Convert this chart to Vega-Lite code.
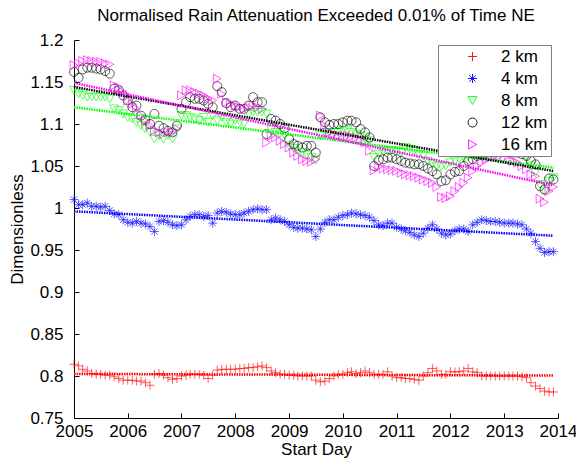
{
  "$schema": "https://vega.github.io/schema/vega-lite/v6.json",
  "width": 484,
  "height": 378,
  "autosize": {"type": "none"},
  "padding": {"left": 74, "top": 40, "right": 18, "bottom": 43},
  "background": "white",
  "title": {"text": "Normalised Rain Attenuation Exceeded 0.01% of Time NE", "fontSize": 17, "fontWeight": "normal", "font": "Liberation Sans", "color": "black", "offset": 6},
  "config": {
    "view": {"stroke": null},
    "font": "Liberation Sans",
    "axis": {"grid": false, "domainColor": "black", "tickColor": "black", "labelColor": "black", "titleColor": "black", "labelFontSize": 17, "titleFontSize": 17, "titleFontWeight": "normal", "tickSize": -5, "labelFont": "Liberation Sans", "titleFont": "Liberation Sans"}
  },
  "datasets": {
    "pts": [
      {"date":"2005-01-01","2 km":0.814,"4 km":1.010,"8 km":1.140,"12 km":1.162,"16 km":1.170},
      {"date":"2005-02-01","2 km":0.812,"4 km":1.004,"8 km":1.136,"12 km":1.155,"16 km":1.172},
      {"date":"2005-03-01","2 km":0.808,"4 km":1.004,"8 km":1.134,"12 km":1.165,"16 km":1.175},
      {"date":"2005-04-01","2 km":0.806,"4 km":1.006,"8 km":1.132,"12 km":1.167,"16 km":1.176},
      {"date":"2005-05-01","2 km":0.803,"4 km":1.002,"8 km":1.132,"12 km":1.167,"16 km":1.175},
      {"date":"2005-06-01","2 km":0.802,"4 km":1.002,"8 km":1.132,"12 km":1.166,"16 km":1.174},
      {"date":"2005-07-01","2 km":0.802,"4 km":1.001,"8 km":1.132,"12 km":1.165,"16 km":1.174},
      {"date":"2005-08-01","2 km":0.801,"4 km":1.002,"8 km":1.132,"12 km":1.163,"16 km":1.172},
      {"date":"2005-09-01","2 km":0.801,"4 km":0.997,"8 km":1.130,"12 km":1.160,"16 km":1.171},
      {"date":"2005-10-01","2 km":0.799,"4 km":0.993,"8 km":1.118,"12 km":1.142,"16 km":1.146},
      {"date":"2005-11-01","2 km":0.797,"4 km":0.992,"8 km":1.116,"12 km":1.140,"16 km":1.144},
      {"date":"2005-12-01","2 km":0.795,"4 km":0.986,"8 km":1.112,"12 km":1.134,"16 km":1.138},
      {"date":"2006-01-01","2 km":0.795,"4 km":0.983,"8 km":1.108,"12 km":1.128,"16 km":1.128},
      {"date":"2006-02-01","2 km":0.795,"4 km":0.982,"8 km":1.106,"12 km":1.120,"16 km":1.124},
      {"date":"2006-03-01","2 km":0.794,"4 km":0.984,"8 km":1.102,"12 km":1.122,"16 km":1.118},
      {"date":"2006-04-01","2 km":0.794,"4 km":0.982,"8 km":1.098,"12 km":1.110,"16 km":1.110},
      {"date":"2006-05-01","2 km":0.792,"4 km":0.981,"8 km":1.094,"12 km":1.105,"16 km":1.104},
      {"date":"2006-06-01","2 km":0.789,"4 km":0.978,"8 km":1.090,"12 km":1.100,"16 km":1.098},
      {"date":"2006-07-01","2 km":0.802,"4 km":0.972,"8 km":1.082,"12 km":1.112,"16 km":1.092},
      {"date":"2006-08-01","2 km":0.803,"4 km":0.984,"8 km":1.086,"12 km":1.098,"16 km":1.090},
      {"date":"2006-09-01","2 km":0.801,"4 km":0.985,"8 km":1.082,"12 km":1.095,"16 km":1.088},
      {"date":"2006-10-01","2 km":0.798,"4 km":0.983,"8 km":1.086,"12 km":1.092,"16 km":1.090},
      {"date":"2006-11-01","2 km":0.796,"4 km":0.980,"8 km":1.082,"12 km":1.090,"16 km":1.090},
      {"date":"2006-12-01","2 km":0.797,"4 km":0.979,"8 km":1.094,"12 km":1.098,"16 km":1.094},
      {"date":"2007-01-01","2 km":0.800,"4 km":0.980,"8 km":1.110,"12 km":1.118,"16 km":1.134},
      {"date":"2007-02-01","2 km":0.801,"4 km":0.986,"8 km":1.110,"12 km":1.126,"16 km":1.140},
      {"date":"2007-03-01","2 km":0.802,"4 km":0.990,"8 km":1.108,"12 km":1.132,"16 km":1.140},
      {"date":"2007-04-01","2 km":0.802,"4 km":0.992,"8 km":1.106,"12 km":1.130,"16 km":1.138},
      {"date":"2007-05-01","2 km":0.802,"4 km":0.992,"8 km":1.104,"12 km":1.130,"16 km":1.136},
      {"date":"2007-06-01","2 km":0.801,"4 km":0.990,"8 km":1.108,"12 km":1.128,"16 km":1.134},
      {"date":"2007-07-01","2 km":0.797,"4 km":0.991,"8 km":1.102,"12 km":1.124,"16 km":1.130},
      {"date":"2007-08-01","2 km":0.801,"4 km":0.982,"8 km":1.110,"12 km":1.120,"16 km":1.128},
      {"date":"2007-09-01","2 km":0.807,"4 km":0.994,"8 km":1.104,"12 km":1.145,"16 km":1.154},
      {"date":"2007-10-01","2 km":0.808,"4 km":0.996,"8 km":1.108,"12 km":1.138,"16 km":1.136},
      {"date":"2007-11-01","2 km":0.808,"4 km":0.995,"8 km":1.102,"12 km":1.125,"16 km":1.126},
      {"date":"2007-12-01","2 km":0.808,"4 km":0.993,"8 km":1.100,"12 km":1.120,"16 km":1.124},
      {"date":"2008-01-01","2 km":0.808,"4 km":0.992,"8 km":1.104,"12 km":1.122,"16 km":1.122},
      {"date":"2008-02-01","2 km":0.809,"4 km":0.992,"8 km":1.102,"12 km":1.118,"16 km":1.120},
      {"date":"2008-03-01","2 km":0.809,"4 km":0.994,"8 km":1.100,"12 km":1.118,"16 km":1.118},
      {"date":"2008-04-01","2 km":0.810,"4 km":0.996,"8 km":1.112,"12 km":1.122,"16 km":1.120},
      {"date":"2008-05-01","2 km":0.810,"4 km":0.998,"8 km":1.114,"12 km":1.132,"16 km":1.122},
      {"date":"2008-06-01","2 km":0.811,"4 km":0.999,"8 km":1.114,"12 km":1.126,"16 km":1.120},
      {"date":"2008-07-01","2 km":0.812,"4 km":0.998,"8 km":1.114,"12 km":1.126,"16 km":1.118},
      {"date":"2008-08-01","2 km":0.810,"4 km":0.998,"8 km":1.112,"12 km":1.088,"16 km":1.078},
      {"date":"2008-09-01","2 km":0.806,"4 km":0.986,"8 km":1.093,"12 km":1.106,"16 km":1.086},
      {"date":"2008-10-01","2 km":0.804,"4 km":0.988,"8 km":1.090,"12 km":1.104,"16 km":1.084},
      {"date":"2008-11-01","2 km":0.802,"4 km":0.986,"8 km":1.088,"12 km":1.100,"16 km":1.080},
      {"date":"2008-12-01","2 km":0.802,"4 km":0.984,"8 km":1.086,"12 km":1.095,"16 km":1.076},
      {"date":"2009-01-01","2 km":0.801,"4 km":0.980,"8 km":1.074,"12 km":1.082,"16 km":1.072},
      {"date":"2009-02-01","2 km":0.801,"4 km":0.977,"8 km":1.071,"12 km":1.076,"16 km":1.066},
      {"date":"2009-03-01","2 km":0.800,"4 km":0.976,"8 km":1.068,"12 km":1.074,"16 km":1.062},
      {"date":"2009-04-01","2 km":0.800,"4 km":0.976,"8 km":1.066,"12 km":1.072,"16 km":1.058},
      {"date":"2009-05-01","2 km":0.800,"4 km":0.975,"8 km":1.063,"12 km":1.074,"16 km":1.056},
      {"date":"2009-06-01","2 km":0.800,"4 km":0.974,"8 km":1.060,"12 km":1.074,"16 km":1.055},
      {"date":"2009-07-01","2 km":0.795,"4 km":0.966,"8 km":1.057,"12 km":1.066,"16 km":1.058},
      {"date":"2009-08-01","2 km":0.793,"4 km":0.975,"8 km":1.086,"12 km":1.108,"16 km":1.110},
      {"date":"2009-09-01","2 km":0.794,"4 km":0.983,"8 km":1.090,"12 km":1.102,"16 km":1.098},
      {"date":"2009-10-01","2 km":0.797,"4 km":0.986,"8 km":1.090,"12 km":1.099,"16 km":1.090},
      {"date":"2009-11-01","2 km":0.800,"4 km":0.986,"8 km":1.090,"12 km":1.100,"16 km":1.088},
      {"date":"2009-12-01","2 km":0.802,"4 km":0.989,"8 km":1.090,"12 km":1.100,"16 km":1.086},
      {"date":"2010-01-01","2 km":0.802,"4 km":0.991,"8 km":1.092,"12 km":1.102,"16 km":1.086},
      {"date":"2010-02-01","2 km":0.804,"4 km":0.992,"8 km":1.092,"12 km":1.104,"16 km":1.086},
      {"date":"2010-03-01","2 km":0.805,"4 km":0.994,"8 km":1.090,"12 km":1.104,"16 km":1.085},
      {"date":"2010-04-01","2 km":0.803,"4 km":0.993,"8 km":1.088,"12 km":1.102,"16 km":1.084},
      {"date":"2010-05-01","2 km":0.804,"4 km":0.992,"8 km":1.086,"12 km":1.094,"16 km":1.082},
      {"date":"2010-06-01","2 km":0.806,"4 km":0.991,"8 km":1.082,"12 km":1.090,"16 km":1.078},
      {"date":"2010-07-01","2 km":0.804,"4 km":0.989,"8 km":1.080,"12 km":1.084,"16 km":1.068},
      {"date":"2010-08-01","2 km":0.802,"4 km":0.985,"8 km":1.060,"12 km":1.050,"16 km":1.045},
      {"date":"2010-09-01","2 km":0.802,"4 km":0.980,"8 km":1.064,"12 km":1.057,"16 km":1.049},
      {"date":"2010-10-01","2 km":0.802,"4 km":0.979,"8 km":1.068,"12 km":1.058,"16 km":1.047},
      {"date":"2010-11-01","2 km":0.805,"4 km":0.982,"8 km":1.068,"12 km":1.060,"16 km":1.046},
      {"date":"2010-12-01","2 km":0.800,"4 km":0.982,"8 km":1.068,"12 km":1.060,"16 km":1.045},
      {"date":"2011-01-01","2 km":0.798,"4 km":0.977,"8 km":1.068,"12 km":1.058,"16 km":1.044},
      {"date":"2011-02-01","2 km":0.798,"4 km":0.975,"8 km":1.066,"12 km":1.056,"16 km":1.042},
      {"date":"2011-03-01","2 km":0.797,"4 km":0.973,"8 km":1.072,"12 km":1.054,"16 km":1.040},
      {"date":"2011-04-01","2 km":0.797,"4 km":0.971,"8 km":1.070,"12 km":1.053,"16 km":1.039},
      {"date":"2011-05-01","2 km":0.796,"4 km":0.968,"8 km":1.068,"12 km":1.052,"16 km":1.038},
      {"date":"2011-06-01","2 km":0.795,"4 km":0.966,"8 km":1.064,"12 km":1.052,"16 km":1.036},
      {"date":"2011-07-01","2 km":0.800,"4 km":0.970,"8 km":1.062,"12 km":1.050,"16 km":1.034},
      {"date":"2011-08-01","2 km":0.804,"4 km":0.976,"8 km":1.056,"12 km":1.047,"16 km":1.032},
      {"date":"2011-09-01","2 km":0.809,"4 km":0.980,"8 km":1.053,"12 km":1.044,"16 km":1.030},
      {"date":"2011-10-01","2 km":0.806,"4 km":0.975,"8 km":1.050,"12 km":1.040,"16 km":1.025},
      {"date":"2011-11-01","2 km":0.802,"4 km":0.970,"8 km":1.049,"12 km":1.032,"16 km":1.013},
      {"date":"2011-12-01","2 km":0.802,"4 km":0.968,"8 km":1.050,"12 km":1.033,"16 km":1.012},
      {"date":"2012-01-01","2 km":0.805,"4 km":0.969,"8 km":1.054,"12 km":1.040,"16 km":1.014},
      {"date":"2012-02-01","2 km":0.805,"4 km":0.973,"8 km":1.056,"12 km":1.043,"16 km":1.020},
      {"date":"2012-03-01","2 km":0.805,"4 km":0.975,"8 km":1.058,"12 km":1.044,"16 km":1.025},
      {"date":"2012-04-01","2 km":0.806,"4 km":0.975,"8 km":1.060,"12 km":1.050,"16 km":1.030},
      {"date":"2012-05-01","2 km":0.809,"4 km":0.972,"8 km":1.062,"12 km":1.056,"16 km":1.036},
      {"date":"2012-06-01","2 km":0.805,"4 km":0.980,"8 km":1.064,"12 km":1.058,"16 km":1.044},
      {"date":"2012-07-01","2 km":0.804,"4 km":0.983,"8 km":1.066,"12 km":1.062,"16 km":1.050},
      {"date":"2012-08-01","2 km":0.800,"4 km":0.986,"8 km":1.068,"12 km":1.064,"16 km":1.054},
      {"date":"2012-09-01","2 km":0.800,"4 km":0.985,"8 km":1.070,"12 km":1.066,"16 km":1.058},
      {"date":"2012-10-01","2 km":0.800,"4 km":0.984,"8 km":1.070,"12 km":1.066,"16 km":1.060},
      {"date":"2012-11-01","2 km":0.800,"4 km":0.984,"8 km":1.072,"12 km":1.068,"16 km":1.062},
      {"date":"2012-12-01","2 km":0.800,"4 km":0.983,"8 km":1.072,"12 km":1.068,"16 km":1.062},
      {"date":"2013-01-01","2 km":0.800,"4 km":0.982,"8 km":1.072,"12 km":1.068,"16 km":1.060},
      {"date":"2013-02-01","2 km":0.800,"4 km":0.982,"8 km":1.070,"12 km":1.068,"16 km":1.058},
      {"date":"2013-03-01","2 km":0.800,"4 km":0.982,"8 km":1.070,"12 km":1.066,"16 km":1.056},
      {"date":"2013-04-01","2 km":0.800,"4 km":0.981,"8 km":1.068,"12 km":1.066,"16 km":1.054},
      {"date":"2013-05-01","2 km":0.799,"4 km":0.980,"8 km":1.066,"12 km":1.064,"16 km":1.050},
      {"date":"2013-06-01","2 km":0.798,"4 km":0.975,"8 km":1.060,"12 km":1.062,"16 km":1.046},
      {"date":"2013-07-01","2 km":0.792,"4 km":0.970,"8 km":1.050,"12 km":1.056,"16 km":1.040},
      {"date":"2013-08-01","2 km":0.788,"4 km":0.960,"8 km":1.042,"12 km":1.052,"16 km":1.038},
      {"date":"2013-09-01","2 km":0.785,"4 km":0.952,"8 km":1.028,"12 km":1.026,"16 km":1.011},
      {"date":"2013-10-01","2 km":0.782,"4 km":0.947,"8 km":1.020,"12 km":1.022,"16 km":1.007},
      {"date":"2013-11-01","2 km":0.781,"4 km":0.948,"8 km":1.032,"12 km":1.035,"16 km":1.020},
      {"date":"2013-12-01","2 km":0.781,"4 km":0.948,"8 km":1.036,"12 km":1.034,"16 km":1.025}
    ],
    "trend": [
      {"date":"2005-01-01","2 km":0.8025,"4 km":0.996,"8 km":1.120,"12 km":1.144,"16 km":1.149},
      {"date":"2013-12-01","2 km":0.8005,"4 km":0.967,"8 km":1.048,"12 km":1.044,"16 km":1.027}
    ]
  },
  "encoding": {
    "x": {"field": "date", "type": "temporal",
      "scale": {"type": "utc", "domain": [{"year": 2005, "month": 1, "date": 1, "utc": true}, {"year": 2014, "month": 1, "date": 1, "utc": true}]},
      "axis": {"title": "Start Day", "values": [{"year":2005,"utc":true},{"year":2006,"utc":true},{"year":2007,"utc":true},{"year":2008,"utc":true},{"year":2009,"utc":true},{"year":2010,"utc":true},{"year":2011,"utc":true},{"year":2012,"utc":true},{"year":2013,"utc":true},{"year":2014,"utc":true}],
        "format": "%Y", "formatType": "utc", "labelFlush": false, "labelOverlap": false, "labelPadding": 10, "titlePadding": 2}},
    "y": {"field": "value", "type": "quantitative",
      "scale": {"domain": [0.75, 1.2], "zero": false, "nice": false},
      "axis": {"title": "Dimensionless", "values": [0.75, 0.8, 0.85, 0.9, 0.95, 1, 1.05, 1.1, 1.15, 1.2], "format": "~g", "labelPadding": 16, "titlePadding": 3}}
  },
  "layer": [
    {
      "data": {"name": "pts"},
      "transform": [{"fold": ["2 km", "4 km", "8 km", "12 km", "16 km"], "as": ["series", "value"]}],
      "mark": {"type": "point", "filled": false, "strokeWidth": 0.7, "size": 81, "opacity": 0.9},
      "encoding": {
        "color": {"field": "series", "type": "nominal",
          "scale": {"domain": ["2 km", "4 km", "8 km", "12 km", "16 km"], "range": ["#ff0000", "#0000ff", "#00ff00", "#000000", "#ff00ff"]},
          "legend": {"title": null, "orient": "none", "legendX": 364, "legendY": 5, "direction": "vertical", "fillColor": "white", "strokeColor": "#808080", "padding": 3, "symbolOffset": 23, "labelOffset": 20, "rowPadding": 4, "labelFontSize": 17, "labelColor": "black", "labelFont": "Liberation Sans", "symbolSize": 81, "symbolStrokeWidth": 1}},
        "shape": {"field": "series", "type": "nominal",
          "scale": {"domain": ["2 km", "4 km", "8 km", "12 km", "16 km"], "range": ["M-1,0L1,0M0,-1L0,1", "M-1,0L1,0M0,-1L0,1M-0.7,-0.7L0.7,0.7M-0.7,0.7L0.7,-0.7", "triangle-down", "circle", "triangle-right"]},
          "legend": {"title": null, "orient": "none", "legendX": 364, "legendY": 5, "direction": "vertical", "fillColor": "white", "strokeColor": "#808080", "padding": 3, "symbolOffset": 23, "labelOffset": 20, "rowPadding": 4, "labelFontSize": 17, "labelColor": "black", "labelFont": "Liberation Sans", "symbolSize": 81, "symbolStrokeWidth": 1}}
      }
    },
    {
      "data": {"name": "trend"},
      "transform": [{"fold": ["2 km", "4 km", "8 km", "12 km", "16 km"], "as": ["series", "value"]}],
      "mark": {"type": "line", "strokeWidth": 2.5, "strokeDash": [1.5, 1]},
      "encoding": {
        "stroke": {"field": "series", "type": "nominal",
          "scale": {"domain": ["2 km", "4 km", "8 km", "12 km", "16 km"], "range": ["#ff0000", "#0000ff", "#00ff00", "#000000", "#ff00ff"]},
          "legend": null}
      }
    }
  ]
}
